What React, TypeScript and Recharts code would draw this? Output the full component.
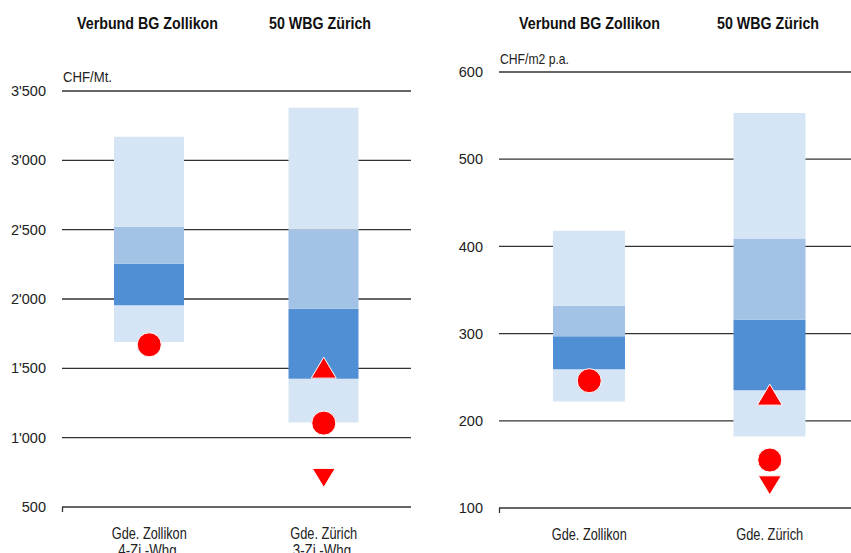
import React from 'react';
import { ComposedChart, Bar, Line, XAxis, YAxis, CartesianGrid } from 'recharts';

// Left panel: rent per month (CHF/Mt.)
const catsLeft = ['Gde. Zollikon', 'Gde. Zürich'];
const subLeft = ['4-Zi.-Whg.', '3-Zi.-Whg.'];
const lowLeft = [1690, 1110];
const q1Left = [1955, 1425];
const medLeft = [2255, 1930];
const q3Left = [2520, 2500];
const highLeft = [3170, 3380];
const circleLeft = [1670, 1105];
const triUpLeft = [null, 1505];
const triDownLeft = [null, 710];
const ticksLeft = [500, 1000, 1500, 2000, 2500, 3000, 3500];

// Right panel: rent per m2 and year (CHF/m2 p.a.)
const catsRight = ['Gde. Zollikon', 'Gde. Zürich'];
const lowRight = [222, 182];
const q1Right = [259, 235];
const medRight = [297, 316];
const q3Right = [332, 409];
const highRight = [418, 553];
const circleRight = [246, 155];
const triUpRight = [null, 230];
const triDownRight = [null, 126];
const ticksRight = [100, 200, 300, 400, 500, 600];

const headers = ['Verbund BG Zollikon', '50 WBG Zürich'];

const LIGHT = '#d6e5f5';
const MID = '#a2c2e6';
const DARK = '#508fd4';
const RED = '#ff0000';
const FONT = '"Liberation Sans", Arial, sans-serif';

// no narrow font installed, so squeeze text to the widths seen in the reference
const narrowWidth: Record<string, number> = {
    'Gde. Zollikon': 75,
    'Gde. Zürich': 67,
    '4-Zi.-Whg.': 62,
    '3-Zi.-Whg.': 62,
    'Verbund BG Zollikon': 141,
    '50 WBG Zürich': 102,
    'CHF/Mt.': 49,
    'CHF/m2 p.a.': 69
};

function buildRows(cats: string[], low: number[], q1: number[], med: number[], q3: number[], high: number[],
    circ: (number | null)[], up: (number | null)[], down: (number | null)[]) {
    return cats.map((c, i) => ({
        cat: c,
        base: low[i],
        s1: q1[i] - low[i],
        s2: med[i] - q1[i],
        s3: q3[i] - med[i],
        s4: high[i] - q3[i],
        circle: circ[i],
        up: up[i],
        down: down[i]
    }));
}

const dataLeft = buildRows(catsLeft, lowLeft, q1Left, medLeft, q3Left, highLeft, circleLeft, triUpLeft, triDownLeft);
const dataRight = buildRows(catsRight, lowRight, q1Right, medRight, q3Right, highRight, circleRight, triUpRight, triDownRight);

const fmtSwiss = (v: number) => v >= 1000 ? `${Math.floor(v / 1000)}'${String(v % 1000).padStart(3, '0')}` : String(v);

const CircleDot = (props: any) => {
    const { cx, cy, value, index } = props;
    if (value == null || cx == null || cy == null) return <g key={`c-${index}`} />;
    return <circle key={`c-${index}`} cx={cx} cy={cy} r={12} fill={RED} stroke="#fff" strokeWidth={1} />;
};

const UpDot = (props: any) => {
    const { cx, cy, value, index } = props;
    if (value == null || cx == null || cy == null) return <g key={`u-${index}`} />;
    const w = 25, h = 21;
    return <polygon key={`u-${index}`} points={`${cx},${cy - h / 2} ${cx - w / 2},${cy + h / 2} ${cx + w / 2},${cy + h / 2}`}
        fill={RED} stroke="#fff" strokeWidth={1} />;
};

const DownDot = (props: any) => {
    const { cx, cy, value, index } = props;
    if (value == null || cx == null || cy == null) return <g key={`d-${index}`} />;
    const w = 23, h = 19;
    return <polygon key={`d-${index}`} points={`${cx - w / 2},${cy - h / 2} ${cx + w / 2},${cy - h / 2} ${cx},${cy + h / 2}`}
        fill={RED} stroke="#fff" strokeWidth={1} />;
};

const NarrowText = ({ x, y, children, anchor = 'middle', size = 16, bold = false }: any) => (
    <text x={x} y={y} textAnchor={anchor} fontFamily={FONT} fontSize={size} fontWeight={bold ? 'bold' : 'normal'}
        fill={bold ? '#111' : '#222'} textLength={narrowWidth[children]} lengthAdjust="spacingAndGlyphs">
        {children}
    </text>
);

const CatTick = (props: any) => {
    const { x, y, payload, index, subs } = props;
    const sub = subs ? subs[index] : '';
    return (
        <g>
            <NarrowText x={x} y={y + 24}>{payload.value}</NarrowText>
            {sub && <NarrowText x={x} y={y + 41}>{sub}</NarrowText>}
        </g>
    );
};

interface PanelProps {
    data: any[];
    ticks: number[];
    domain: [number, number];
    top: number;
    xHeight: number;
    yWidth: number;
    width: number;
    right: number;
    barSize: number;
    fmt?: (v: number) => string;
    subs?: string[];
}

function Panel({ data, ticks, domain, top, xHeight, yWidth, width, right, barSize, fmt, subs }: PanelProps) {
    return (
        <ComposedChart width={width} height={553} data={data} margin={{ top, right, bottom: 0, left: 0 }}>
            <CartesianGrid horizontal vertical={false} stroke="#333" strokeWidth={1.3} />
            <XAxis dataKey="cat" axisLine={false} tickLine={false} height={xHeight} interval={0}
                tick={<CatTick subs={subs} />} />
            <YAxis type="number" domain={domain} ticks={ticks} allowDataOverflow width={yWidth}
                axisLine={false} tickLine={false} tickSize={0} tickMargin={16}
                tickFormatter={fmt} tick={{ fill: '#222', fontSize: 14.5, fontFamily: FONT }} />
            <Bar dataKey="base" stackId="a" fill="transparent" barSize={barSize} isAnimationActive={false} />
            <Bar dataKey="s1" stackId="a" fill={LIGHT} barSize={barSize} isAnimationActive={false} />
            <Bar dataKey="s2" stackId="a" fill={DARK} barSize={barSize} isAnimationActive={false} />
            <Bar dataKey="s3" stackId="a" fill={MID} barSize={barSize} isAnimationActive={false} />
            <Bar dataKey="s4" stackId="a" fill={LIGHT} barSize={barSize} isAnimationActive={false} />
            <Line dataKey="circle" stroke="none" dot={CircleDot} activeDot={false} isAnimationActive={false} />
            <Line dataKey="up" stroke="none" dot={UpDot} activeDot={false} isAnimationActive={false} />
            <Line dataKey="down" stroke="none" dot={DownDot} activeDot={false} isAnimationActive={false} />
        </ComposedChart>
    );
}

export default function App() {
    return (
        <div style={{ position: 'absolute', left: 0, top: 0, width: 851, height: 553, overflow: 'hidden', background: '#fff' }}>
            <div style={{ position: 'absolute', left: 0, top: 0 }}>
                <Panel data={dataLeft} ticks={ticksLeft} domain={[500, 3500]} top={91} xHeight={46}
                    yWidth={62} width={430} right={19} barSize={70} fmt={fmtSwiss} subs={subLeft} />
            </div>
            <div style={{ position: 'absolute', left: 430, top: 0 }}>
                <Panel data={dataRight} ticks={ticksRight} domain={[100, 600]} top={72} xHeight={45}
                    yWidth={69} width={440} right={10} barSize={72} />
            </div>
            <svg width={851} height={553} style={{ position: 'absolute', left: 0, top: 0, pointerEvents: 'none' }}>
                <NarrowText x={147.5} y={29} size={16.5} bold>{headers[0]}</NarrowText>
                <NarrowText x={320} y={29} size={16.5} bold>{headers[1]}</NarrowText>
                <NarrowText x={589.5} y={29} size={16.5} bold>{headers[0]}</NarrowText>
                <NarrowText x={768} y={29} size={16.5} bold>{headers[1]}</NarrowText>
                <NarrowText x={63} y={82} anchor="start" size={15}>CHF/Mt.</NarrowText>
                <NarrowText x={500} y={64} anchor="start" size={15}>CHF/m2 p.a.</NarrowText>
                <line x1={62.5} y1={507} x2={62.5} y2={512} stroke="#333" strokeWidth={1.3} />
                <line x1={499.5} y1={508} x2={499.5} y2={513} stroke="#333" strokeWidth={1.3} />
            </svg>
        </div>
    );
}
